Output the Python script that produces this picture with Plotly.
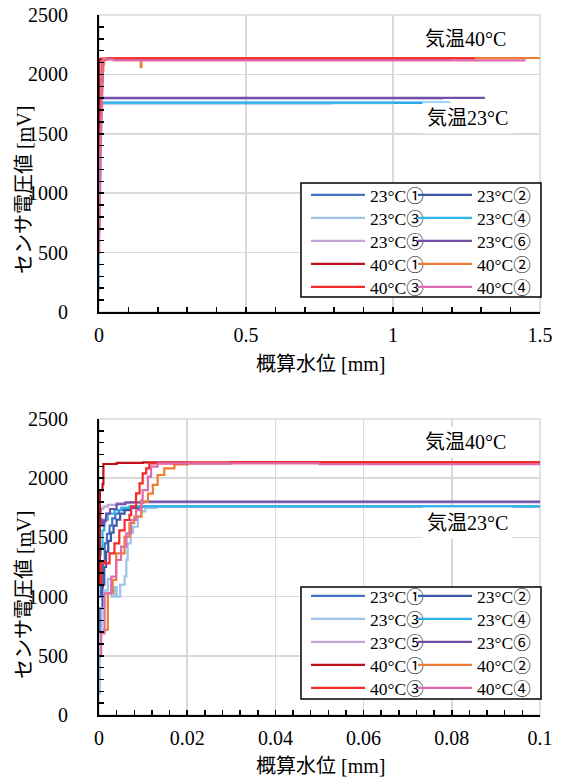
import plotly.graph_objects as go

W, H = 563, 781

# ---------------- data (x: 概算水位 [mm], y: センサ電圧値 [mV]) ----------------
names = ["23°C①", "23°C②", "23°C③", "23°C④", "23°C⑤", "23°C⑥",
         "40°C①", "40°C②", "40°C③", "40°C④"]

x_23_1 = [0, 0.0004, 0.0009, 0.0013, 0.0018, 0.0024, 0.0030, 0.0037, 0.0045, 0.0055, 0.0070, 1.10]
y_23_1 = [1000, 1080, 1300, 1450, 1530, 1600, 1660, 1700, 1730, 1750, 1760, 1762]

x_23_2 = [0, 0.0003, 0.0008, 0.0012, 0.0016, 0.0021, 0.0027, 0.0033, 0.0040, 0.0048, 0.0058, 0.0070, 0.0090, 0.796]
y_23_2 = [650, 900, 1100, 1250, 1380, 1470, 1540, 1600, 1650, 1700, 1730, 1750, 1758, 1758]

x_23_3 = [0, 0.0002, 0.0006, 0.0012, 0.0020, 0.0028, 0.0035, 0.0040, 0.0048, 0.0058, 0.0062,
          0.0065, 0.0072, 0.0077, 0.0088, 0.0096, 0.0105, 0.0130, 1.00]
y_23_3 = [180, 700, 900, 1050, 1150, 1000, 1080, 1000, 1100, 1170, 1310,
          1450, 1540, 1590, 1680, 1720, 1750, 1758, 1758]

x_23_4 = [0, 0.0004, 0.0008, 0.0012, 0.0020, 0.0035, 0.0050, 0.0070, 1.194]
y_23_4 = [1350, 1420, 1560, 1650, 1700, 1730, 1750, 1762, 1766]

x_23_5 = [0, 0.0004, 0.0010, 0.0020, 0.0040, 0.0070, 1.17]
y_23_5 = [1700, 1740, 1760, 1775, 1790, 1795, 1795]

x_23_6 = [0, 0.0003, 0.0007, 0.0012, 0.0016, 0.0025, 0.0040, 0.0060, 0.0100, 1.313]
y_23_6 = [1750, 1650, 1600, 1640, 1700, 1740, 1780, 1795, 1802, 1802]

x_40_1 = [0, 0.0002, 0.0008, 0.0010, 0.0040, 0.0100, 1.20]
y_40_1 = [1100, 1900, 1950, 2120, 2130, 2133, 2133]

x_40_2 = [0, 0.0012, 0.0020, 0.0031, 0.0039, 0.0058, 0.0069, 0.0080, 0.0096, 0.0111, 0.0122,
          0.0133, 0.0148, 0.0171, 0.0201, 0.140, 0.142, 0.144, 1.50]
y_40_2 = [700, 720, 1030, 1140, 1365, 1506, 1620, 1675, 1800, 1870, 1943,
          2027, 2083, 2117, 2131, 2138, 2060, 2138, 2140]

x_40_3 = [0, 0.0005, 0.00125, 0.0024, 0.0035, 0.0046, 0.0058, 0.0069, 0.0073, 0.0084, 0.0092,
          0.0099, 0.0107, 0.0114, 0.0300, 1.279]
y_40_3 = [1100, 1300, 1280, 1365, 1450, 1560, 1647, 1690, 1760, 1872, 1957,
          2040, 2083, 2126, 2135, 2135]

x_40_4 = [0, 0.0005, 0.00125, 0.0028, 0.0039, 0.0050, 0.0062, 0.0073, 0.0084, 0.0096, 0.0099,
          0.0111, 0.0118, 0.0133, 0.0500, 1.449]
y_40_4 = [500, 690, 1028, 1168, 1309, 1422, 1534, 1647, 1731, 1816, 1900,
          2013, 2097, 2126, 2118, 2116]

xs = [x_23_1, x_23_2, x_23_3, x_23_4, x_23_5, x_23_6, x_40_1, x_40_2, x_40_3, x_40_4]
ys = [y_23_1, y_23_2, y_23_3, y_23_4, y_23_5, y_23_6, y_40_1, y_40_2, y_40_3, y_40_4]

y_ticks = [0, 500, 1000, 1500, 2000, 2500]
x_range_top = [0, 1.5]
x_range_bottom = [0, 0.1]

# ---------------- styling ----------------
colors = ["#4472C4", "#3E58A8", "#9DC3E6", "#2DB4EA", "#C2A6DA", "#7250A8",
          "#C0101A", "#ED7D31", "#F52A2A", "#E06AAE"]

SERIF = "Liberation Serif, 'Noto Sans CJK JP', serif"
GRID = "#D9D9D9"


def px_x(p):
    return p / W


def px_y(p):
    return 1 - p / H


# legend slot layout (one legend per entry, 2 columns x 5 rows per chart)
LEG_COL_X = [306, 413]
LEG_ROW_Y_TOP = [195, 218, 241, 264, 287]
LEG_ROW_Y_BOT = [596, 619, 642, 665, 688]

fig = go.Figure()
leg_font = dict(family=SERIF, size=17.5, color="black")
legends = {}

for chart, (xa, ya, rows) in enumerate((("x", "y", LEG_ROW_Y_TOP), ("x2", "y2", LEG_ROW_Y_BOT))):
    for i, (nm, xv, yv) in enumerate(zip(names, xs, ys)):
        k = chart * 10 + i + 1
        lname = "legend" if k == 1 else f"legend{k}"
        legends[lname] = dict(x=px_x(LEG_COL_X[i % 2]), y=px_y(rows[i // 2]),
                              xanchor="left", yanchor="middle",
                              bgcolor="rgba(0,0,0,0)", borderwidth=0, font=leg_font,
                              itemwidth=54, itemclick=False, itemdoubleclick=False)
        fig.add_trace(go.Scatter(x=xv, y=yv, mode="lines", name=nm,
                                 line=dict(color=colors[i], width=2.2, shape="hv"),
                                 xaxis=xa, yaxis=ya, legend=lname))

tickfont = dict(family=SERIF, size=20, color="black")


def xaxis_cfg(rng, dtick, minor, ydom_anchor):
    return dict(domain=[px_x(99), px_x(540)], anchor=ydom_anchor, range=rng,
                tick0=0, dtick=dtick, showgrid=True, gridcolor=GRID, gridwidth=1.5,
                showline=True, linecolor="black", linewidth=2, zeroline=False,
                ticks="inside", ticklen=5, tickwidth=1.5, tickcolor="black",
                minor=dict(dtick=minor, tick0=0, ticks="inside", ticklen=5,
                           tickwidth=1.5, tickcolor="black", showgrid=False),
                tickfont=tickfont, ticklabelstandoff=4, automargin=False, fixedrange=True)


def yaxis_cfg(top_px, bot_px, xanchor):
    return dict(domain=[px_y(bot_px), px_y(top_px)], anchor=xanchor, range=[0, 2500],
                tickvals=y_ticks, showgrid=True, gridcolor=GRID, gridwidth=1.5,
                showline=True, linecolor="black", linewidth=2, zeroline=False,
                ticks="inside", ticklen=5, tickwidth=1.5, tickcolor="black",
                minor=dict(dtick=100, tick0=0, ticks="inside", ticklen=5,
                           tickwidth=1.5, tickcolor="black", showgrid=False),
                tickfont=tickfont, ticklabelstandoff=25, automargin=False, fixedrange=True)


fig.update_layout(
    width=W, height=H,
    margin=dict(l=0, r=0, t=0, b=0, autoexpand=False),
    paper_bgcolor="white", plot_bgcolor="white",
    xaxis=xaxis_cfg(x_range_top, 0.5, 0.1, "y"),
    yaxis=yaxis_cfg(15, 312, "x"),
    xaxis2=xaxis_cfg(x_range_bottom, 0.02, 0.004, "y2"),
    yaxis2=yaxis_cfg(419, 715, "x2"),
    showlegend=True,
    **legends,
)

shapes = []
# plot area borders (grey)
for xa, ya in (("x", "y"), ("x2", "y2")):
    shapes.append(dict(type="rect", xref=xa + " domain", yref=ya + " domain",
                       x0=0, x1=1, y0=0, y1=1, line=dict(color=GRID, width=1.5),
                       layer="below"))
# legend boxes
for t, b in ((183, 297), (587, 699)):
    shapes.append(dict(type="rect", xref="paper", yref="paper",
                       x0=px_x(301), x1=px_x(541), y0=px_y(b), y1=px_y(t),
                       line=dict(color="black", width=1.5), fillcolor="white",
                       layer="above"))
fig.update_layout(shapes=shapes)

ann_font = dict(family=SERIF, size=20, color="black")
annotations = []
for cx, cy in ((465, 39), (465, 442)):
    annotations.append(dict(text="気温40°C", x=px_x(cx), y=px_y(cy), xref="paper", yref="paper",
                            showarrow=False, font=ann_font, bgcolor="white", borderpad=4,
                            xanchor="center", yanchor="middle"))
for cx, cy in ((467, 118), (467, 523)):
    annotations.append(dict(text="気温23°C", x=px_x(cx), y=px_y(cy), xref="paper", yref="paper",
                            showarrow=False, font=ann_font, bgcolor="white", borderpad=4,
                            xanchor="center", yanchor="middle"))
# axis titles
for cy in (364, 766):
    annotations.append(dict(text="概算水位 [mm]", x=px_x(320), y=px_y(cy), xref="paper", yref="paper",
                            showarrow=False, font=ann_font, xanchor="center", yanchor="middle"))
for cy in (190, 595):
    annotations.append(dict(text="センサ電圧値 [mV]", x=px_x(24), y=px_y(cy), xref="paper", yref="paper",
                            showarrow=False, font=ann_font, textangle=-90,
                            xanchor="center", yanchor="middle"))
fig.update_layout(annotations=annotations)

fig.write_html(
    "out.html",
    config={"displayModeBar": False, "staticPlot": True},
    post_script="document.body.style.margin='0';document.body.style.overflow='hidden';",
)
